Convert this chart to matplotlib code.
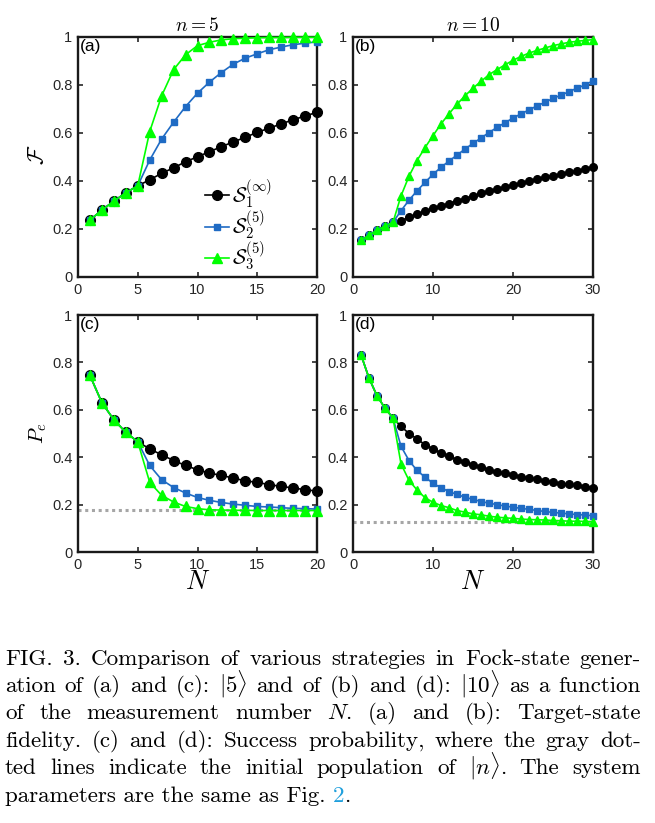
import matplotlib
matplotlib.use('Agg')
import matplotlib.pyplot as plt

plt.rcParams['mathtext.fontset'] = 'cm'
plt.rcParams['font.family'] = ['Liberation Sans', 'DejaVu Sans']

# ---- data ----
N5 = list(range(1, 21))
N10 = list(range(1, 31))

fid5_s1 = [0.237, 0.279, 0.316, 0.351, 0.380, 0.405, 0.432, 0.455, 0.480, 0.501,
           0.522, 0.543, 0.563, 0.582, 0.603, 0.620, 0.638, 0.655, 0.671, 0.686]
fid5_s2 = [0.237, 0.279, 0.316, 0.351, 0.380, 0.487, 0.575, 0.645, 0.710, 0.766,
           0.812, 0.852, 0.887, 0.912, 0.930, 0.947, 0.958, 0.968, 0.974, 0.980]
fid5_s3 = [0.237, 0.279, 0.316, 0.351, 0.380, 0.606, 0.755, 0.864, 0.926, 0.964,
           0.978, 0.988, 0.993, 0.995, 0.997, 0.998, 0.998, 0.999, 0.999, 0.999]

fid10_s1 = [0.153, 0.174, 0.195, 0.212, 0.228, 0.234, 0.248, 0.262, 0.274, 0.286,
            0.297, 0.306, 0.318, 0.327, 0.337, 0.348, 0.358, 0.366, 0.375, 0.383,
            0.391, 0.398, 0.407, 0.415, 0.422, 0.429, 0.436, 0.443, 0.450, 0.458]
fid10_s2 = [0.153, 0.174, 0.195, 0.212, 0.228, 0.276, 0.320, 0.359, 0.394, 0.428,
            0.457, 0.483, 0.508, 0.533, 0.557, 0.579, 0.602, 0.623, 0.643, 0.662,
            0.680, 0.696, 0.713, 0.728, 0.744, 0.758, 0.772, 0.787, 0.800, 0.818]
fid10_s3 = [0.153, 0.174, 0.195, 0.212, 0.228, 0.338, 0.420, 0.485, 0.539, 0.589,
            0.638, 0.680, 0.720, 0.755, 0.787, 0.815, 0.843, 0.864, 0.884, 0.903,
            0.919, 0.933, 0.944, 0.954, 0.964, 0.971, 0.978, 0.982, 0.986, 0.989]

pe5_s1 = [0.745, 0.630, 0.558, 0.505, 0.465, 0.435, 0.410, 0.386, 0.365, 0.347,
          0.333, 0.323, 0.312, 0.300, 0.294, 0.284, 0.277, 0.270, 0.263, 0.257]
pe5_s2 = [0.745, 0.630, 0.558, 0.505, 0.465, 0.365, 0.305, 0.272, 0.249, 0.230,
          0.218, 0.209, 0.202, 0.197, 0.192, 0.190, 0.187, 0.184, 0.183, 0.181]
pe5_s3 = [0.745, 0.630, 0.558, 0.505, 0.465, 0.294, 0.239, 0.211, 0.192, 0.183,
          0.178, 0.177, 0.176, 0.176, 0.175, 0.175, 0.175, 0.175, 0.175, 0.175]

pe10_s1 = [0.832, 0.734, 0.659, 0.607, 0.565, 0.530, 0.500, 0.477, 0.453, 0.435,
           0.418, 0.404, 0.390, 0.379, 0.367, 0.358, 0.348, 0.339, 0.332, 0.325,
           0.318, 0.311, 0.306, 0.300, 0.295, 0.289, 0.285, 0.281, 0.276, 0.271]
pe10_s2 = [0.832, 0.734, 0.659, 0.607, 0.565, 0.446, 0.386, 0.344, 0.316, 0.290,
           0.271, 0.255, 0.243, 0.231, 0.222, 0.213, 0.206, 0.200, 0.194, 0.189,
           0.184, 0.180, 0.175, 0.171, 0.167, 0.164, 0.161, 0.158, 0.156, 0.153]
pe10_s3 = [0.832, 0.734, 0.659, 0.607, 0.565, 0.372, 0.302, 0.262, 0.229, 0.210,
           0.196, 0.187, 0.175, 0.168, 0.161, 0.157, 0.151, 0.147, 0.144, 0.142,
           0.139, 0.137, 0.136, 0.135, 0.133, 0.132, 0.130, 0.130, 0.129, 0.128]

init_pop = [0.1755, 0.1251]   # gray dotted lines, n=5 and n=10

labels = [r'$\mathcal{S}_1^{(\infty)}$', r'$\mathcal{S}_2^{(5)}$', r'$\mathcal{S}_3^{(5)}$']
yticks = [0, 0.2, 0.4, 0.6, 0.8, 1]
yticklabels = ['0', '0.2', '0.4', '0.6', '0.8', '1']

BLUE = '#1f6bc4'
GREEN = '#00ff00'
DARK = '#262626'

W, H = 655, 823
fig = plt.figure(figsize=(W / 100, H / 100), dpi=100)


def px_axes(x0, y0, x1, y1):
    return fig.add_axes([x0 / W, 1 - y1 / H, (x1 - x0) / W, (y1 - y0) / H])


def style(ax, xmax, xticks, tag):
    ax.set_xlim(0, xmax)
    ax.set_ylim(0, 1)
    ax.set_xticks(xticks)
    ax.set_yticks(yticks)
    ax.set_yticklabels(yticklabels)
    ax.tick_params(direction='in', length=3.5, width=1.2, top=True, right=True,
                   labelsize=10.5, colors=DARK, pad=4)
    for s in ax.spines.values():
        s.set_linewidth(1.7)
        s.set_color('#1a1a1a')
    ax.text(0.008, 0.99, tag, transform=ax.transAxes, ha='left', va='top',
            fontsize=12.5, color='black')


def draw(ax, N, s1, s2, s3, big):
    if big:
        ms = (7, 5, 7.5)
    else:
        ms = (5.5, 4.2, 6.2)
    ax.plot(N, s1, '-o', color='black', lw=1.2, ms=ms[0], label=labels[0], clip_on=False, zorder=3)
    ax.plot(N, s2, '-s', color=BLUE, lw=1.2, ms=ms[1], label=labels[1], clip_on=False, zorder=4)
    ax.plot(N, s3, '-^', color=GREEN, lw=1.2, ms=ms[2], label=labels[2], clip_on=False, zorder=5)


ax_a = px_axes(78, 37, 317, 277)
ax_b = px_axes(353, 37, 593, 277)
ax_c = px_axes(78, 315, 317, 552)
ax_d = px_axes(353, 315, 593, 552)

draw(ax_a, N5, fid5_s1, fid5_s2, fid5_s3, True)
draw(ax_b, N10, fid10_s1, fid10_s2, fid10_s3, False)
ax_c.plot([0, 20], [init_pop[0]] * 2, ls=(0, (1, 1.2)), color='#a6a6a6', lw=2.2, zorder=2)
ax_d.plot([0, 30], [init_pop[1]] * 2, ls=(0, (1, 1.2)), color='#a6a6a6', lw=2.2, zorder=2)
draw(ax_c, N5, pe5_s1, pe5_s2, pe5_s3, True)
draw(ax_d, N10, pe10_s1, pe10_s2, pe10_s3, False)

style(ax_a, 20, [0, 5, 10, 15, 20], '(a)')
style(ax_b, 30, [0, 10, 20, 30], '(b)')
style(ax_c, 20, [0, 5, 10, 15, 20], '(c)')
style(ax_d, 30, [0, 10, 20, 30], '(d)')

ax_a.set_title(r'$n=5$', fontsize=14, pad=4)
ax_b.set_title(r'$n=10$', fontsize=14, pad=4)
ax_c.set_xlabel(r'$N$', fontsize=19, labelpad=-1)
ax_d.set_xlabel(r'$N$', fontsize=19, labelpad=-1)
fig.text(38 / W, 1 - 155 / H, r'$\mathcal{F}$', fontsize=16, rotation=90, ha='center', va='center')
fig.text(38 / W, 1 - 433 / H, r'$P_e$', fontsize=15, rotation=90, ha='center', va='center')

ax_a.legend(loc='upper left', bbox_to_anchor=(0.53, 0.415), frameon=False, fontsize=15,
            handlelength=1.15, handletextpad=0.15, labelspacing=-0.1, borderpad=0,
            borderaxespad=0)

# ---- caption, justified line by line ----
caption = [
    'FIG. 3. Comparison of various strategies in Fock-state gener-',
    r'ation of (a) and (c): $|5\rangle$ and of (b) and (d): $|10\rangle$ as a function',
    r'of the measurement number $N$.  (a) and (b):  Target-state',
    'fidelity. (c) and (d): Success probability, where the gray dot-',
    r'ted lines indicate the initial population of $|n\rangle$.  The system',
]
base_y = [665, 692, 719, 747, 774, 802]
x_left, x_right = 5, 641
cap_fs = 16.6
renderer = fig.canvas.get_renderer()

for line, yb in zip(caption, base_y):
    words = line.split()
    texts = [fig.text(0, 1 - yb / H, w, fontsize=cap_fs, family='cmr10', va='baseline')
             for w in words]
    widths = [t.get_window_extent(renderer).width for t in texts]
    gap = (x_right - x_left - sum(widths)) / (len(words) - 1)
    x = x_left
    for t, w in zip(texts, widths):
        t.set_x(x / W)
        x += w + gap

# last line, left aligned, with the blue reference number
last = fig.text(x_left / W, 1 - base_y[5] / H, 'parameters are the same as Fig. ',
                fontsize=cap_fs, family='cmr10', va='baseline')
wl = last.get_window_extent(renderer).width
ref = fig.text((x_left + wl) / W, 1 - base_y[5] / H, '2', fontsize=cap_fs,
               family='cmr10', va='baseline', color='#1f9fdc')
wr = ref.get_window_extent(renderer).width
fig.text((x_left + wl + wr) / W, 1 - base_y[5] / H, '.', fontsize=cap_fs,
         family='cmr10', va='baseline')

fig.savefig('out.png', dpi=100)
